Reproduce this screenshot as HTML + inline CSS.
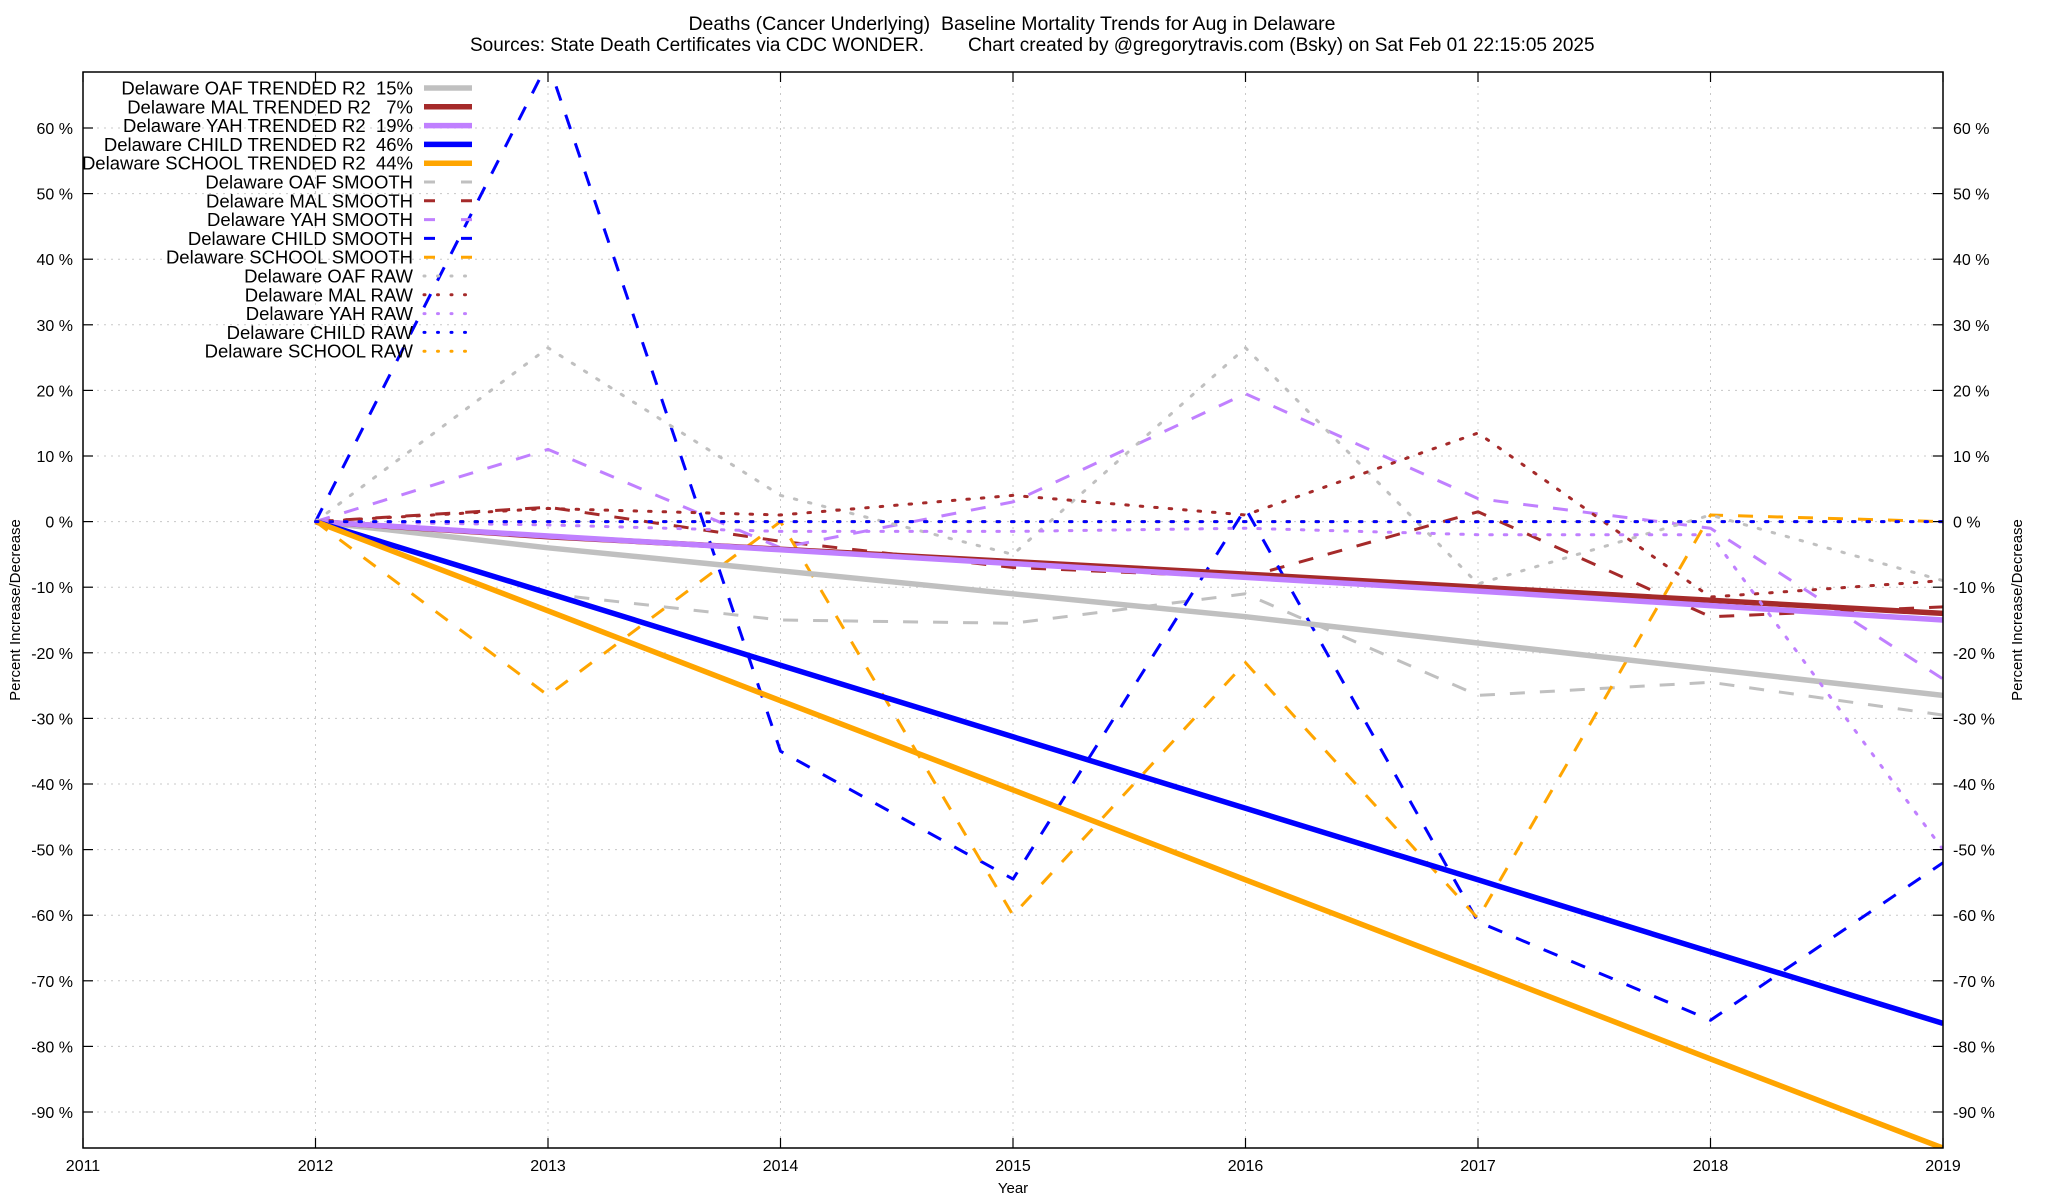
<!DOCTYPE html>
<html><head><meta charset="utf-8"><style>
html,body{margin:0;padding:0;background:#fff;}
svg{display:block;font-family:"Liberation Sans",Arial,sans-serif;}
.pre{white-space:pre;}
</style></head><body>
<svg id="chart" width="2048" height="1200" viewBox="0 0 2048 1200" xmlns="http://www.w3.org/2000/svg">
<rect width="2048" height="1200" fill="#fff"/>
<text class="pre" x="1012" y="30" font-size="19.5" text-anchor="middle">Deaths (Cancer Underlying)  Baseline Mortality Trends for Aug in Delaware</text>
<text y="51" font-size="19"><tspan x="470">Sources: State Death Certificates via CDC WONDER.</tspan><tspan x="968">Chart created by @gregorytravis.com (Bsky) on Sat Feb 01 22:15:05 2025</tspan></text>
<g id="grid"></g>
<defs><clipPath id="pc"><rect x="83" y="72" width="1860" height="1076"/></clipPath></defs>
<g id="series" clip-path="url(#pc)"></g>
<rect x="83" y="72" width="1860" height="1076" fill="none" stroke="#000" stroke-width="1.5"/>
<g id="axes"></g>
<g id="legend"></g>
<text x="1013" y="1193" font-size="15" text-anchor="middle">Year</text>
<text transform="translate(20,610) rotate(-90)" font-size="15" text-anchor="middle">Percent Increase/Decrease</text>
<text transform="translate(2022,610) rotate(-90)" font-size="15" text-anchor="middle">Percent Increase/Decrease</text>
</svg>
<script>
const years = [2012,2013,2014,2015,2016,2017,2018,2019];
const xTicks = [2011,2012,2013,2014,2015,2016,2017,2018,2019];
const yTicks = [60,50,40,30,20,10,0,-10,-20,-30,-40,-50,-60,-70,-80,-90];

const oafTrend = [0,-4,-7.5,-11,-14.5,-18.5,-22.5,-26.5];
const malTrend = [0,-2.3,-4.2,-6.1,-8.0,-10.0,-12.0,-14.0];
const yahTrend = [0,-2.2,-4.3,-6.4,-8.5,-10.6,-12.8,-15];
const childTrend = [0,-10.9,-21.9,-32.8,-43.7,-54.6,-65.6,-76.5];
const schoolTrend = [0,-13.6,-27.3,-40.9,-54.6,-68.2,-81.9,-95.5];

const oafSmooth = [0,-11,-15,-15.5,-11,-26.5,-24.5,-29.5];
const malSmooth = [0,2.2,-3,-7,-8.5,1.5,-14.5,-13];
const yahSmooth = [0,11,-4,3,19.5,3.5,-1,-24];
const childSmooth = [0,70,-35,-54.5,2,-61,-76,-52];
const schoolSmooth = [0,-26.5,0,-60,-21.5,-60.5,1,0];

const oafRaw = [0,26.5,4,-5,26.5,-9.5,1,-9];
const malRaw = [0,2,1,4,1,13.5,-11.5,-9];
const yahRaw = [0,-0.5,-1.5,-1.5,-1,-2,-2,-50];
const childRaw = [0,0,0,0,0,0,0,0];
const schoolRaw = [0,0,0,0,0,0,0,0];

const X0=83, X1=1943, Y0=72, Y1=1148;
function xs(y){ return X0 + (y-2011)*(X1-X0)/8; }
function ys(v){ return 521.6 - v*6.56; }

const NS="http://www.w3.org/2000/svg";
function mk(tag, attrs, parent){ const e=document.createElementNS(NS,tag); for(const k in attrs) e.setAttribute(k,attrs[k]); parent.appendChild(e); return e; }

const grid=document.getElementById('grid'), axes=document.getElementById('axes');
yTicks.forEach(v=>{
  const gl=mk('line',{x1:X0,x2:X1,y1:ys(v),y2:ys(v),stroke:'#c8c8c8','stroke-width':1,'stroke-dasharray':'2,5'},grid);
  
  
  const t1=mk('line',{x1:X0,x2:X0+10,y1:ys(v),y2:ys(v),stroke:'#000','stroke-width':1.2},axes);
  
  
  const t2=mk('line',{x1:X1-10,x2:X1,y1:ys(v),y2:ys(v),stroke:'#000','stroke-width':1.2},axes);
  
  
  const l1=mk('text',{x:X0-10,y:ys(v)+6,'font-size':16,'text-anchor':'end'},axes);
  l1.textContent=v+' %';
  
  
  const l2=mk('text',{x:X1+10,y:ys(v)+6,'font-size':16,'text-anchor':'start'},axes);
  l2.textContent=v+' %';
  
  
});
xTicks.forEach(y=>{
  const gl=mk('line',{x1:xs(y),x2:xs(y),y1:Y0,y2:Y1,stroke:'#c8c8c8','stroke-width':1,'stroke-dasharray':'2,5'},grid);
  
  
  const t1=mk('line',{x1:xs(y),x2:xs(y),y1:Y1-10,y2:Y1,stroke:'#000','stroke-width':1.2},axes);
  
  
  const t2=mk('line',{x1:xs(y),x2:xs(y),y1:Y0,y2:Y0+10,stroke:'#000','stroke-width':1.2},axes);
  
  
  const l=mk('text',{x:xs(y),y:Y1+23,'font-size':16,'text-anchor':'middle'},axes);
  l.textContent=y;
  
  
});

const C={oaf:'#c0c0c0',mal:'#a52a2a',yah:'#c080ff',child:'#0000ff',school:'#ffa500'};
const STY={
  trend:{w:5.5,d:''},
  smooth:{w:3,d:'15,15'},
  raw:{w:3,d:'2.5,12'}
};
const seriesList=[
  ['Delaware OAF TRENDED R2  15%',oafTrend,C.oaf,'trend','oaf-trend'],
  ['Delaware MAL TRENDED R2   7%',malTrend,C.mal,'trend','mal-trend'],
  ['Delaware YAH TRENDED R2  19%',yahTrend,C.yah,'trend','yah-trend'],
  ['Delaware CHILD TRENDED R2  46%',childTrend,C.child,'trend','child-trend'],
  ['Delaware SCHOOL TRENDED R2  44%',schoolTrend,C.school,'trend','school-trend'],
  ['Delaware OAF SMOOTH',oafSmooth,C.oaf,'smooth','oaf-smooth'],
  ['Delaware MAL SMOOTH',malSmooth,C.mal,'smooth','mal-smooth'],
  ['Delaware YAH SMOOTH',yahSmooth,C.yah,'smooth','yah-smooth'],
  ['Delaware CHILD SMOOTH',childSmooth,C.child,'smooth','child-smooth'],
  ['Delaware SCHOOL SMOOTH',schoolSmooth,C.school,'smooth','school-smooth'],
  ['Delaware OAF RAW',oafRaw,C.oaf,'raw','oaf-raw'],
  ['Delaware MAL RAW',malRaw,C.mal,'raw','mal-raw'],
  ['Delaware YAH RAW',yahRaw,C.yah,'raw','yah-raw'],
  ['Delaware CHILD RAW',childRaw,C.child,'raw','child-raw'],
  ['Delaware SCHOOL RAW',schoolRaw,C.school,'raw','school-raw']
];
const sg=document.getElementById('series'), lg=document.getElementById('legend');
const order=[5,6,7,8,9,0,1,2,3,4,10,11,12,14,13];
order.forEach(i=>{
  const [name,vals,col,kind,id]=seriesList[i];
  const st=STY[kind];
  const pts=vals.map((v,j)=>xs(years[j]).toFixed(1)+','+ys(v).toFixed(1)).join(' ');
  const p=mk('polyline',{points:pts,fill:'none',stroke:col,'stroke-width':st.w,'stroke-linejoin':'round','stroke-linecap':kind==='raw'?'round':'butt'},sg);
  if(st.d) p.setAttribute('stroke-dasharray',st.d);
  
  
});
seriesList.forEach((s,i)=>{
  const [name,vals,col,kind,id]=s;
  const st=STY[kind];
  const y=88+i*18.8;
  const t=mk('text',{x:413,y:y+6.5,'font-size':18.5,'text-anchor':'end','class':'pre'},lg);
  t.textContent=name;
  
  
  const l=mk('line',{x1:424,x2:472,y1:y,y2:y,stroke:col,'stroke-width':st.w,'stroke-linecap':kind==='raw'?'round':'butt'},lg);
  if(kind==='smooth') l.setAttribute('stroke-dasharray','11,26');
  if(kind==='raw') l.setAttribute('stroke-dasharray','1,12.5');
  
  
});
</script>
</body></html>
